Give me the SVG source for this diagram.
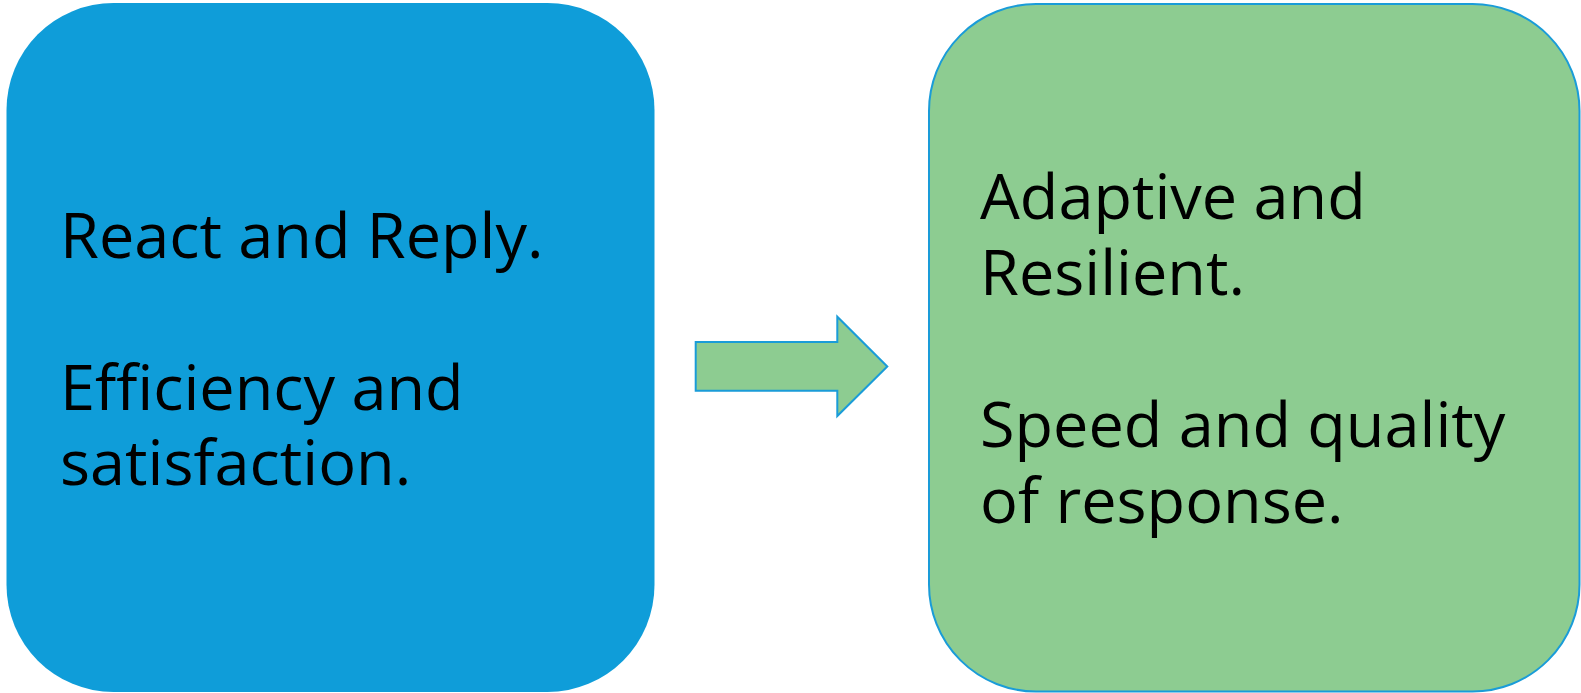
<svg xmlns="http://www.w3.org/2000/svg" width="1581" height="693" viewBox="0 0 1581 693">
  <style>
    .label { font-family: "Open Sans", "Noto Sans", "Liberation Sans", sans-serif; font-size: 63px; fill: #000; }
  </style>
  <rect width="1581" height="693" fill="#ffffff"/>

  <!-- left panel -->
  <g id="node-react">
    <rect x="6.5" y="3" width="648" height="689" rx="107" ry="107" fill="#0f9dd9"/>
    <text class="label" x="60" y="258">React and Reply.</text>
    <text class="label" x="60" y="410">Efficiency and</text>
    <text class="label" x="60" y="485">satisfaction.</text>
  </g>

  <!-- right panel -->
  <g id="node-adaptive">
    <rect x="929" y="4" width="650.5" height="687.5" rx="107" ry="107" fill="#8dcc91" stroke="#1a9cd8" stroke-width="2"/>
    <text class="label" x="980" y="219">Adaptive and</text>
    <text class="label" x="980" y="295">Resilient.</text>
    <text class="label" x="980" y="447">Speed and quality</text>
    <text class="label" x="980" y="523">of response.</text>
  </g>

  <!-- block arrow between panels -->
  <g id="connectors">
    <path d="M695.7 342 H837.3 V316.7 L887.3 366.5 L837.3 416 V390.7 H695.7 Z" fill="#8dcc91" stroke="#1a9cd8" stroke-width="2" stroke-linejoin="miter"/>
  </g>
</svg>
